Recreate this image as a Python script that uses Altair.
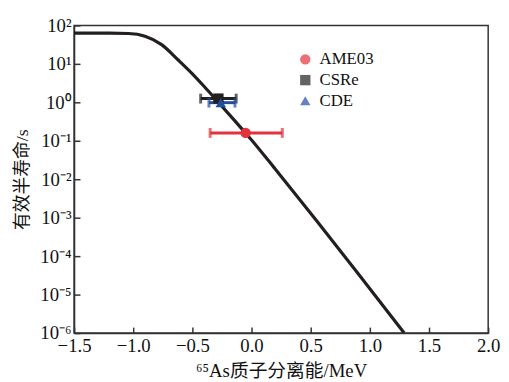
import altair as alt
import pandas as pd

# theoretical curve
curve_x = [-1.5, -1.2, -1.04, -0.90, -0.76, -0.62, -0.50, -0.40, -0.30, -0.15, -0.05, 0.0, 0.20, 0.55, 0.90, 1.29]
curve_y = [63, 63, 61.7, 52.5, 31.6, 12.6, 5.5, 2.57, 1.17, 0.355, 0.158, 0.105, 0.0184, 8.3e-4, 3.55e-5, 1.0e-6]

# measured points
series = ["AME03", "CSRe", "CDE"]
pt_x = [-0.05, -0.28, -0.26]
pt_y = [0.16, 1.25, 0.98]
err_lo = [-0.35, -0.43, -0.36]
err_hi = [0.26, -0.13, -0.14]
colors = ["#e3323b", "#231f20", "#1f4f9f"]
shapes = ["circle", "square", "triangle-up"]

x_ticks = [-1.5, -1.0, -0.5, 0.0, 0.5, 1.0, 1.5, 2.0]
y_ticks = [1e-6, 1e-5, 1e-4, 1e-3, 1e-2, 1e-1, 1e0, 1e1, 1e2]

W, H = 420, 312
FONT = "'Liberation Serif', 'Times New Roman', 'Noto Sans CJK SC', serif"

curve_df = pd.DataFrame({"x": curve_x, "y": curve_y})
pts_df = pd.DataFrame({
    "series": series, "x": pt_x, "y": pt_y, "lo": err_lo, "hi": err_hi,
    "col": colors,
})

xscale = alt.Scale(domain=[-1.5, 2.0], nice=False, zero=False)
yscale = alt.Scale(type="log", domain=[1e-6, 100], nice=False)

exp = "round(log(datum.value)/LN10)"
ylabel = (f"'10' + ({exp} < 0 ? '⁻' : '') + "
          f"substring('⁰¹²³⁴⁵⁶⁷⁸⁹', abs({exp}), abs({exp}) + 1)")

main_x = alt.Axis(values=x_ticks, format=".1f", ticks=False, grid=False,
                  labelFontSize=19, labelFont=FONT, labelPadding=4,
                  labelColor="#111", domainColor="#333", domainWidth=1.5,
                  title="⁶⁵As质子分离能/MeV", titleFont=FONT, titleFontSize=19,
                  titleFontWeight="normal", titleColor="#111", titlePadding=6,
                  labelFlush=False)
main_y = alt.Axis(values=y_ticks, labelExpr=ylabel, ticks=False, grid=False,
                  labelFontSize=19, labelFont=FONT, labelPadding=3,
                  labelColor="#111", domainColor="#333", domainWidth=1.5,
                  title="有效半寿命/s", titleFont=FONT, titleFontSize=18,
                  titleFontWeight="normal", titleColor="#111", titlePadding=9,
                  labelFlush=False)
# inward ticks: opposite-side axes shifted onto the plot edges
tick_x = alt.Axis(orient="top", offset=-H, values=x_ticks, labels=False,
                  domain=False, grid=False, tickSize=6, tickWidth=1.5,
                  tickColor="#333", title=None)
tick_y = alt.Axis(orient="right", offset=-W, values=y_ticks, labels=False,
                  domain=False, grid=False, tickSize=6, tickWidth=1.5,
                  tickColor="#333", title=None)

curve = alt.Chart(curve_df).mark_line(
    color="#231f20", strokeWidth=3.2, interpolate="monotone", clip=True
).encode(
    x=alt.X("x:Q", scale=xscale, axis=main_x),
    y=alt.Y("y:Q", scale=yscale, axis=main_y),
)

curve_ticks = alt.Chart(curve_df).mark_line(opacity=0).encode(
    x=alt.X("x:Q", scale=xscale, axis=tick_x),
    y=alt.Y("y:Q", scale=yscale, axis=tick_y),
)

rules = alt.Chart(pts_df).mark_rule(strokeWidth=3).encode(
    x=alt.X("lo:Q", scale=xscale, axis=None),
    x2="hi:Q",
    y=alt.Y("y:Q", scale=yscale, axis=None),
    color=alt.Color("col:N", scale=None),
)

caps = alt.Chart(pts_df).transform_fold(["lo", "hi"], as_=["end", "xe"]).mark_tick(
    orient="vertical", size=10, thickness=3
).encode(
    x=alt.X("xe:Q", scale=xscale, axis=None),
    y=alt.Y("y:Q", scale=yscale, axis=None),
    color=alt.Color("col:N", scale=None),
)

leg = alt.Legend(title=None, orient="none", legendX=226, legendY=26,
                 labelFont=FONT, labelFontSize=17, labelColor="#111",
                 symbolSize=110, rowPadding=3, padding=0, labelOffset=6,
                 symbolStrokeWidth=0)

points = alt.Chart(pts_df).mark_point(filled=True, size=110, opacity=1).encode(
    x=alt.X("x:Q", scale=xscale, axis=None),
    y=alt.Y("y:Q", scale=yscale, axis=None),
    color=alt.Color("series:N", scale=alt.Scale(domain=series, range=colors), legend=leg),
    shape=alt.Shape("series:N", scale=alt.Scale(domain=series, range=shapes), legend=leg),
)

chart = alt.layer(curve, curve_ticks, rules, caps, points).resolve_axis(
    x="independent", y="independent"
).properties(
    width=W, height=H,
    autosize=alt.AutoSizeParams(type="none"),
    padding={"left": 67, "top": 15, "right": 13, "bottom": 47},
).configure_view(
    stroke="#333", strokeWidth=1.5
)

chart.save("out.html", embed_options={"renderer": "svg", "actions": False})
